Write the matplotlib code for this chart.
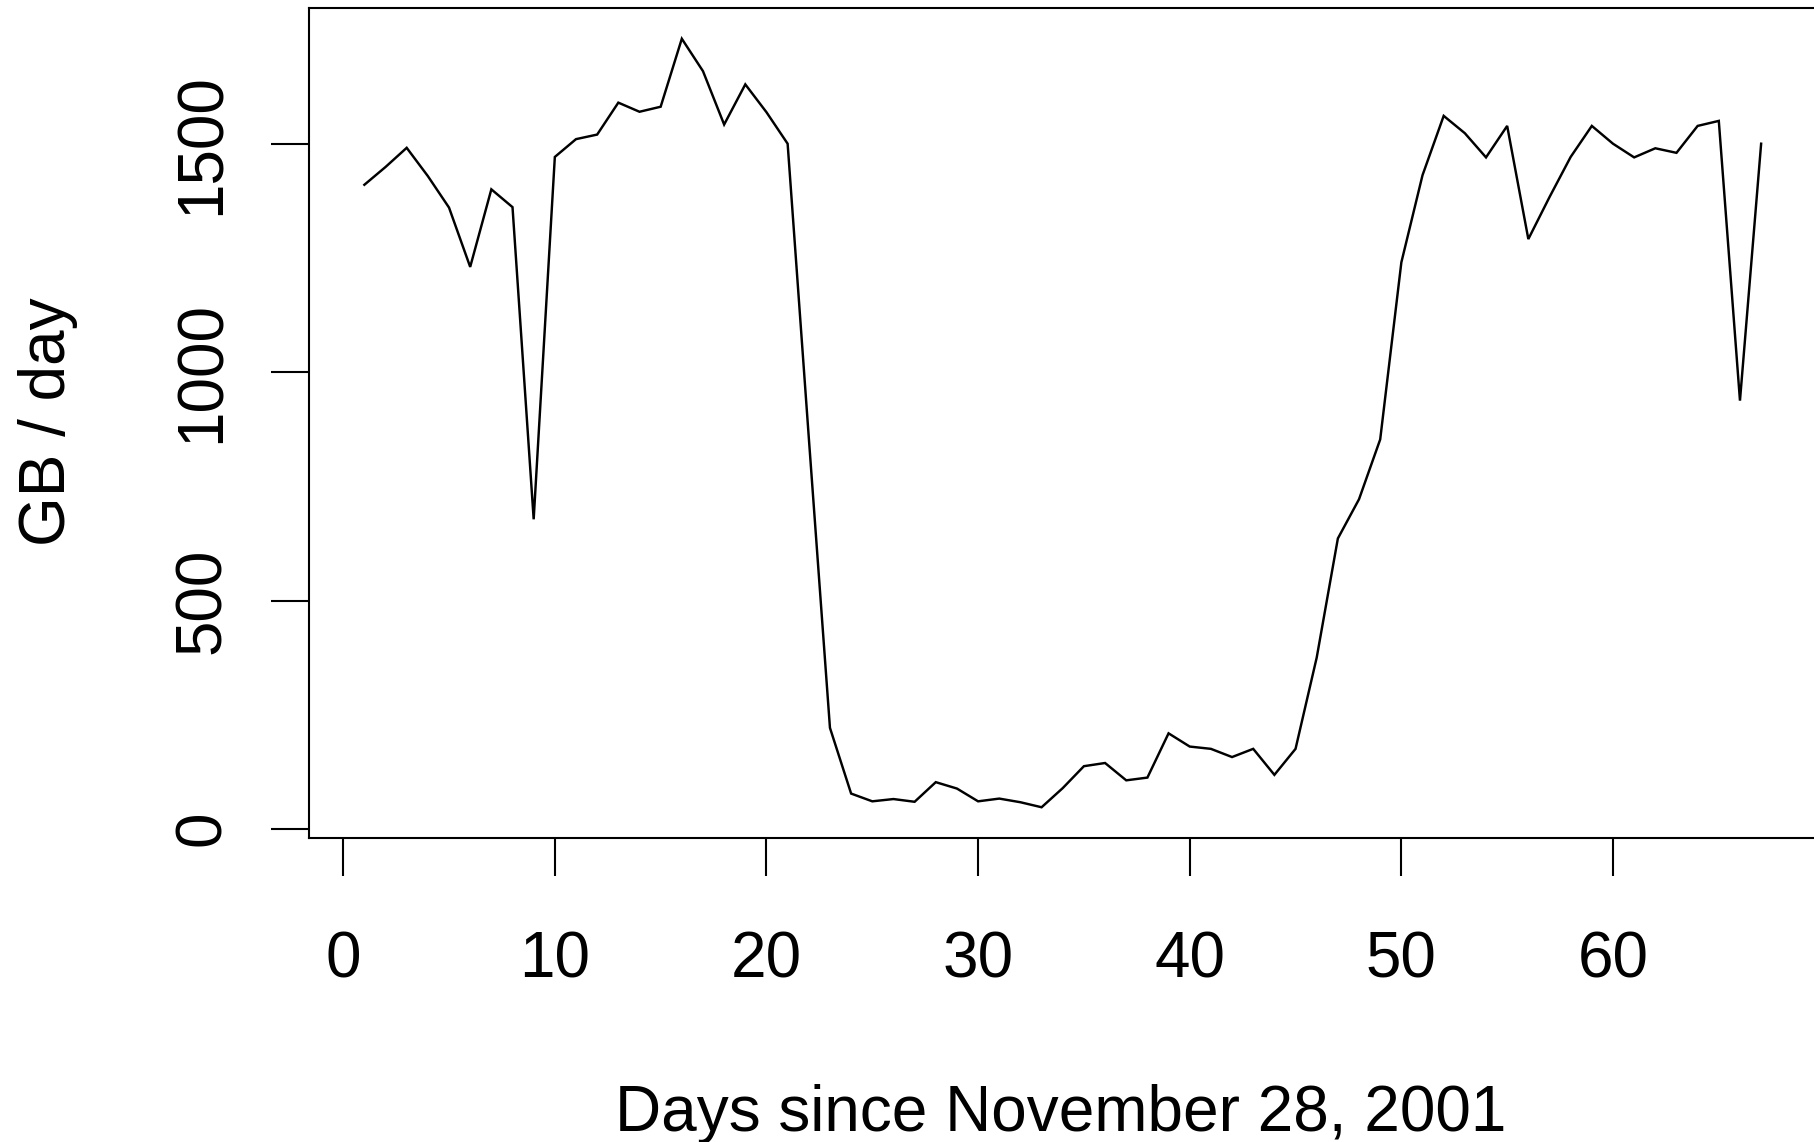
"""Daily traffic (GB/day) since November 28, 2001, drawn in base-R style."""
import matplotlib

matplotlib.use("Agg")
import matplotlib.pyplot as plt

# --- data -------------------------------------------------------------------
days = list(range(1, 68))
gb_per_day = [
    1411, 1450, 1492, 1430, 1361, 1231, 1401, 1362, 678, 1472,
    1511, 1521, 1591, 1571, 1582, 1731, 1660, 1543, 1631, 1570,
    1501, 857, 221, 77, 60, 65, 59, 102, 88, 60,
    66, 58, 47, 89, 137, 144, 106, 112, 209, 180,
    175, 157, 175, 118, 175, 375, 636, 722, 853, 1241,
    1432, 1562, 1524, 1471, 1540, 1292, 1384, 1472, 1540, 1501,
    1471, 1491, 1481, 1540, 1551, 938, 1501,
]
x_ticks = [0, 10, 20, 30, 40, 50, 60]
y_ticks = [0, 500, 1000, 1500]
x_label = "Days since November 28, 2001"
y_label = "GB / day"

W, H, DPI = 1814, 1142, 100
FONT = 46
LW = 1.5

plt.rcParams["font.family"] = ["Liberation Sans", "DejaVu Sans"]

fig = plt.figure(figsize=(W / DPI, H / DPI), dpi=DPI)
# plot region in pixels: left 308.5, right 1817 (just off the canvas), top 8, bottom 838
left, right, top, bottom = 308.5, 1817, 8, 838
ax = fig.add_axes([left / W, 1 - bottom / H, (right - left) / W, (bottom - top) / H])

ax.plot(days, gb_per_day, color="black", lw=1.75, solid_joinstyle="miter")

# R's default 4% range extension
span_x = max(days) - min(days)
span_y = max(gb_per_day) - min(gb_per_day)
ax.set_xlim(min(days) - 0.04 * span_x, max(days) + 0.04 * span_x)
ax.set_ylim(min(gb_per_day) - 0.04 * span_y, max(gb_per_day) + 0.04 * span_y)

for s in ax.spines.values():
    s.set_linewidth(LW)

ax.set_xticks(x_ticks)
ax.set_xticklabels([str(v) for v in x_ticks], fontsize=FONT)
ax.set_yticks(y_ticks)
ax.set_yticklabels([str(v) for v in y_ticks], fontsize=FONT, rotation=90, va="center")
ax.tick_params(axis="both", direction="out", length=27.4, width=LW, color="black")
ax.tick_params(axis="x", pad=39)
ax.tick_params(axis="y", pad=27)

fig.text(1061 / W, 1 - 1131 / H, x_label, fontsize=FONT, ha="center", va="baseline")
fig.text(65 / W, 1 - 422 / H, y_label, fontsize=FONT, ha="center", va="baseline",
         rotation=90, rotation_mode="anchor")

fig.savefig("out.png", dpi=DPI)
